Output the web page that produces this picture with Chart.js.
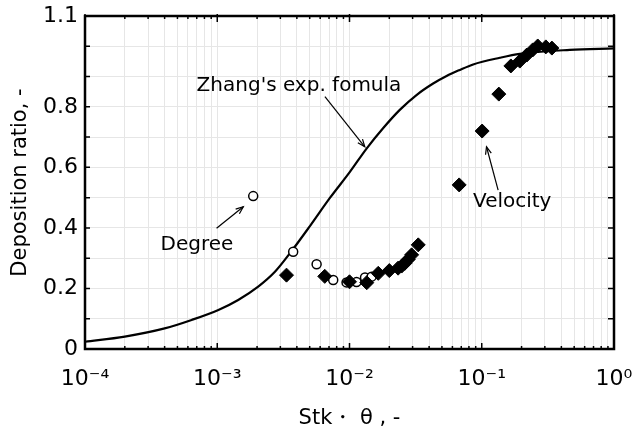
<!DOCTYPE html>
<html>
<head>
<meta charset="utf-8">
<script src="https://cdn.jsdelivr.net/npm/chart.js@4.4.1/dist/chart.umd.min.js"></script>
<style>
  html, body { margin: 0; padding: 0; background: #ffffff; }
  #wrap { width: 635px; height: 439px; }
</style>
</head>
<body>
<div id="wrap"><canvas id="c" width="635" height="439"></canvas></div>
<script>
// ---------- data ----------
const zhangX = [1e-4, 2.0e-4, 4.0e-4, 6.4e-4, 1.02e-3, 1.44e-3, 2.04e-3, 2.73e-3, 3.54e-3, 5.02e-3, 7.11e-3, 1.007e-2, 1.346e-2, 1.80e-2, 2.40e-2, 3.21e-2, 4.29e-2, 5.42e-2, 6.83e-2, 8.61e-2, 0.137, 0.194, 0.463, 1];
const zhangY = [0.024, 0.041, 0.068, 0.096, 0.129, 0.162, 0.206, 0.255, 0.316, 0.406, 0.499, 0.585, 0.662, 0.730, 0.790, 0.839, 0.877, 0.902, 0.922, 0.940, 0.962, 0.975, 0.988, 0.993];

const velocityX = [3.34e-3, 6.5e-3, 1.0e-2, 1.35e-2, 1.65e-2, 2.0e-2, 2.33e-2, 2.48e-2, 2.62e-2, 2.78e-2, 2.95e-2, 3.31e-2, 6.75e-2, 0.1007, 0.1346, 0.166, 0.194, 0.219, 0.243, 0.265, 0.305, 0.339];
const velocityY = [0.244, 0.240, 0.222, 0.219, 0.250, 0.259, 0.267, 0.274, 0.283, 0.296, 0.311, 0.344, 0.542, 0.720, 0.842, 0.935, 0.951, 0.971, 0.988, 1.001, 0.998, 0.994];

const degreeX = [1.87e-3, 3.75e-3, 5.64e-3, 7.53e-3, 9.5e-3, 1.13e-2, 1.31e-2, 1.47e-2];
const degreeY = [0.505, 0.321, 0.280, 0.228, 0.220, 0.221, 0.236, 0.239];

// tick labels
const xMajorVals = [1e-4, 1e-3, 1e-2, 1e-1, 1];
const xMajorLabels = ['10⁻⁴', '10⁻³', '10⁻²', '10⁻¹', '10⁰'];
const xMinorMult = [1, 2, 3, 4, 5, 6, 7, 8, 9];
const yGridVals = [0, 0.1, 0.2, 0.3, 0.4, 0.5, 0.6, 0.7, 0.8, 0.9, 1.0, 1.1];
const yLabelVals = [0, 0.2, 0.4, 0.6, 0.8, 1.1];
const yLabels = ['0', '0.2', '0.4', '0.6', '0.8', '1.1'];

// annotations
const annoTexts = ["Zhang's exp. fomula", 'Velocity', 'Degree'];
const annoTextPos = [[4.15e-3, 0.869], [0.170, 0.487], [7.02e-4, 0.344]];
const annoArrows = [[[6.52e-3, 0.834], [1.305e-2, 0.668]], [[0.133, 0.525], [0.1086, 0.668]], [[9.88e-4, 0.399], [1.574e-3, 0.470]]];

// ---------- build ----------
const FONT = "'DejaVu Sans', sans-serif";
const xGridVals = [];
for (let e = -4; e < 0; e++) for (const m of xMinorMult) xGridVals.push(m * Math.pow(10, e));
xGridVals.push(1);

const toPts = (xs, ys) => xs.map((x, i) => ({ x: x, y: ys[i] }));

const frame = {
  id: 'frame',
  afterDatasetsDraw(chart) {
    const { ctx, chartArea: a, scales: { x, y } } = chart;
    ctx.save();
    ctx.strokeStyle = '#000';
    ctx.lineWidth = 1.5;
    xGridVals.forEach(v => {
      const px = x.getPixelForValue(v);
      const major = xMajorVals.some(m => Math.abs(Math.log10(m) - Math.log10(v)) < 1e-9);
      const len = major ? 6 : 3;
      ctx.beginPath();
      ctx.moveTo(px, a.bottom); ctx.lineTo(px, a.bottom - len);
      ctx.moveTo(px, a.top - (major ? 2 : 1)); ctx.lineTo(px, a.top + len);
      ctx.stroke();
    });
    yGridVals.forEach(v => {
      const py = y.getPixelForValue(v);
      ctx.beginPath();
      ctx.moveTo(a.left - 1, py); ctx.lineTo(a.left + 5, py);
      ctx.moveTo(a.right, py); ctx.lineTo(a.right - 6, py);
      ctx.stroke();
    });
    ctx.lineWidth = 2.5;
    ctx.strokeRect(a.left, a.top, a.right - a.left, a.bottom - a.top);
    ctx.restore();
  },
  afterDraw(chart) {
    const { ctx, scales: { x, y } } = chart;
    ctx.save();
    ctx.fillStyle = '#000';
    ctx.strokeStyle = '#000';
    ctx.font = "20px " + FONT;
    ctx.textAlign = 'center';
    ctx.textBaseline = 'middle';
    annoTexts.forEach((t, i) => {
      ctx.fillText(t, x.getPixelForValue(annoTextPos[i][0]), y.getPixelForValue(annoTextPos[i][1]));
      const [f, to] = annoArrows[i];
      const x1 = x.getPixelForValue(f[0]), y1 = y.getPixelForValue(f[1]);
      const x2 = x.getPixelForValue(to[0]), y2 = y.getPixelForValue(to[1]);
      ctx.lineWidth = 1.2;
      ctx.beginPath(); ctx.moveTo(x1, y1); ctx.lineTo(x2, y2); ctx.stroke();
      const ang = Math.atan2(y2 - y1, x2 - x1);
      const h = 8, w = 0.38;
      ctx.beginPath();
      ctx.moveTo(x2 - h * Math.cos(ang - w), y2 - h * Math.sin(ang - w));
      ctx.lineTo(x2, y2);
      ctx.lineTo(x2 - h * Math.cos(ang + w), y2 - h * Math.sin(ang + w));
      ctx.stroke();
    });
    ctx.restore();
  }
};

new Chart(document.getElementById('c'), {
  type: 'scatter',
  data: {
    datasets: [
      {
        label: 'Velocity',
        data: toPts(velocityX, velocityY),
        pointStyle: 'rectRot',
        pointRadius: 7,
        backgroundColor: '#000',
        borderColor: '#000',
        borderWidth: 1,
        order: 0
      },
      {
        label: 'Degree',
        data: toPts(degreeX, degreeY),
        pointStyle: 'circle',
        pointRadius: 4.5,
        backgroundColor: '#fff',
        borderColor: '#000',
        borderWidth: 1.5,
        order: 1
      },
      {
        label: "Zhang's exp. fomula",
        type: 'line',
        data: toPts(zhangX, zhangY),
        showLine: true,
        pointRadius: 0,
        borderColor: '#000',
        borderWidth: 2.2,
        fill: false,
        cubicInterpolationMode: 'monotone',
        order: 2
      }
    ]
  },
  options: {
    responsive: false,
    animation: false,
    devicePixelRatio: 1,
    layout: { padding: { top: 16, right: 21, left: 0, bottom: 0 } },
    plugins: { legend: { display: false }, tooltip: { enabled: false } },
    scales: {
      x: {
        type: 'logarithmic',
        min: 1e-4,
        max: 1,
        afterBuildTicks: s => { s.ticks = xGridVals.map(v => ({ value: v })); },
        afterFit: s => { s.height = 90; s.paddingLeft = 0; s.paddingRight = 0; },
        grid: { color: '#e6e6e6', lineWidth: 1, drawTicks: false },
        border: { display: false },
        ticks: {
          autoSkip: false,
          maxRotation: 0,
          padding: 17,
          color: '#000',
          font: { family: FONT, size: 22 },
          callback: v => {
            const i = xMajorVals.findIndex(m => Math.abs(Math.log10(m) - Math.log10(v)) < 1e-9);
            return i >= 0 ? xMajorLabels[i] : '';
          }
        },
        title: {
          display: true,
          text: 'Stk・ θ , -',
          color: '#000',
          font: { family: FONT, size: 21 },
          padding: { top: 0, bottom: 8 }
        }
      },
      y: {
        type: 'linear',
        min: 0,
        max: 1.1,
        afterBuildTicks: s => { s.ticks = yGridVals.map(v => ({ value: v })); },
        afterFit: s => { s.width = 85; s.paddingTop = 0; s.paddingBottom = 0; },
        grid: { color: '#e6e6e6', lineWidth: 1, drawTicks: false },
        border: { display: false },
        ticks: {
          autoSkip: false,
          padding: 7,
          color: '#000',
          font: { family: FONT, size: 22 },
          callback: v => {
            const i = yLabelVals.findIndex(m => Math.abs(m - v) < 1e-9);
            return i >= 0 ? yLabels[i] : '';
          }
        },
        title: {
          display: true,
          text: 'Deposition ratio, -',
          color: '#000',
          font: { family: FONT, size: 21 },
          padding: { top: 8, bottom: 0 }
        }
      }
    }
  },
  plugins: [frame]
});
</script>
</body>
</html>
